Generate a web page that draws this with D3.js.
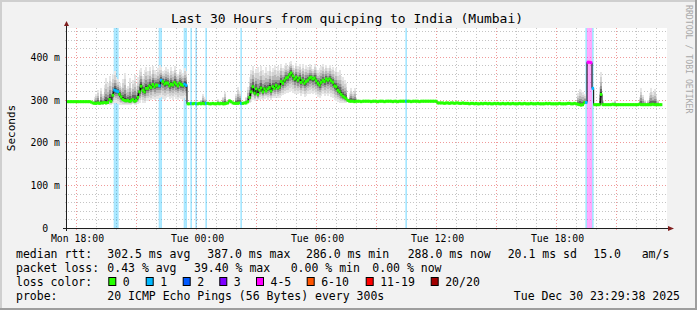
<!DOCTYPE html>
<html>
<head>
<meta charset="utf-8">
<script src="https://cdn.jsdelivr.net/npm/d3@7"></script>
<style>
  body { margin: 0; background: #f2f2f2; }
  svg { display: block; font-family: "DejaVu Sans Mono", monospace; }
</style>
</head>
<body>
<svg id="chart" width="697" height="310"></svg>
<script>
const _ = null;

// median rtt (ms), 5 minute steps starting Mon 17:30, one row per hour
var median = [
  295,295,295,295,295,295,295,295,295,295,295,295,
  295,295,294,292,291,291,292,291,292,292,293,292,
  293,300,296,310,322,320,318,312,306,300,298,297,
  298,296,297,300,296,298,305,318,331,322,318,326,
  326,332,328,335,330,334,333,332,345,342,336,339,
  338,332,336,334,340,336,332,338,335,333,336,333,
  290,290,291,290,291,290,290,291,290,291,290,291,
  291,290,290,291,290,290,291,290,291,290,290,291,
  292,297,295,292,291,291,291,292,291,291,292,292,
  295,305,318,330,315,325,312,322,327,318,325,320,
  325,328,320,330,326,333,327,330,342,338,345,350,
  352,358,362,355,348,352,345,350,340,345,338,342,
  345,350,352,348,350,344,338,334,340,345,342,348,
  345,348,344,340,332,330,322,318,312,308,305,302,
  298,296,296,296,295,296,296,296,295,296,296,296,
  296,296,295,296,296,296,295,296,296,296,295,296,
  296,296,296,295,296,296,295,296,296,296,296,296,
  296,296,295,296,296,296,296,295,296,296,296,296,
  296,296,296,296,296,296,292,292,292,292,291,292,
  292,291,292,292,291,292,292,291,291,292,291,291,
  291,290,291,291,290,291,290,290,291,290,291,291,
  290,291,290,290,291,290,291,290,290,291,290,290,
  291,290,290,291,290,290,290,291,290,290,291,290,
  290,290,291,290,290,290,291,290,290,290,290,291,
  290,291,290,290,290,290,290,291,290,290,290,290,
  291,291,290,290,291,290,289,288,287,288,293,293,
  387,387,386,326,288,288,288,288,312,288,288,288,
  288,288,288,289,288,288,288,288,288,288,288,288,
  288,288,288,288,288,288,288,289,288,288,288,288,
  288,288,288,289,288,288,288,288,288
];

// smoke: highest and lowest ping of each step (ms), _ = no visible smoke
var smokeHi = [
  _,_,_,_,_,_,_,_,_,_,_,_,
  _,_,_,_,305,312,322,300,328,312,335,350,
  338,356,342,360,366,352,348,338,330,348,362,328,
  332,350,326,345,357,333,352,368,374,356,370,376,
  366,375,360,378,368,364,374,380,376,366,370,375,
  372,362,375,366,378,365,360,372,368,362,374,366,
  _,_,_,_,_,_,_,_,300,312,305,_,
  _,_,_,_,_,_,302,296,_,306,318,298,
  _,300,298,_,_,312,330,320,300,_,296,306,
  330,352,370,378,362,372,375,364,378,368,362,375,
  366,378,364,374,380,368,378,370,384,374,380,385,
  378,388,390,380,374,386,378,384,372,382,372,380,
  376,384,378,372,382,376,370,374,378,384,372,380,
  374,380,372,376,366,374,364,368,356,352,345,338,
  300,315,328,318,326,305,300,_,_,_,_,_,
  _,_,_,_,_,_,_,_,_,_,_,_,
  _,_,_,_,_,_,_,_,_,_,_,_,
  _,_,_,_,_,_,_,_,_,_,_,_,
  _,_,_,_,_,_,_,_,_,_,_,_,
  _,_,_,_,_,_,_,_,_,_,_,_,
  _,_,_,_,_,_,_,_,_,_,_,_,
  _,_,_,_,_,_,_,_,_,_,_,_,
  _,_,_,_,_,_,_,_,_,_,_,_,
  _,_,_,_,_,_,_,_,_,_,_,_,
  _,_,_,_,_,_,_,_,_,_,_,_,
  _,_,_,_,_,_,315,325,322,318,312,300,
  _,_,_,_,_,_,_,330,365,300,_,_,
  _,_,_,_,300,_,_,_,_,_,_,_,
  _,_,_,_,_,_,_,305,327,310,298,_,
  300,315,327,318,325,310,300,_,_
];
var smokeLo = [
  _,_,_,_,_,_,_,_,_,_,_,_,
  _,_,_,_,289,288,289,288,289,288,289,288,
  289,288,288,290,292,292,290,288,287,288,287,288,
  288,287,288,289,287,288,290,292,298,293,291,296,
  296,300,298,302,300,301,302,304,306,302,300,304,
  306,302,304,300,306,302,300,304,302,300,303,300,
  _,_,_,_,_,_,_,_,289,289,289,_,
  _,_,_,_,_,_,289,289,_,289,289,289,
  _,290,290,_,_,289,289,289,289,_,289,290,
  290,292,295,298,296,300,298,300,302,300,302,304,
  300,303,298,303,304,306,303,304,308,310,312,315,
  315,318,320,316,312,314,312,315,308,312,306,308,
  312,314,316,312,315,310,306,304,308,312,308,312,
  308,312,306,304,298,297,294,293,292,292,291,291,
  294,294,294,294,294,294,294,_,_,_,_,_,
  _,_,_,_,_,_,_,_,_,_,_,_,
  _,_,_,_,_,_,_,_,_,_,_,_,
  _,_,_,_,_,_,_,_,_,_,_,_,
  _,_,_,_,_,_,_,_,_,_,_,_,
  _,_,_,_,_,_,_,_,_,_,_,_,
  _,_,_,_,_,_,_,_,_,_,_,_,
  _,_,_,_,_,_,_,_,_,_,_,_,
  _,_,_,_,_,_,_,_,_,_,_,_,
  _,_,_,_,_,_,_,_,_,_,_,_,
  _,_,_,_,_,_,_,_,_,_,_,_,
  _,_,_,_,_,_,288,287,286,286,288,290,
  _,_,_,_,_,_,_,288,288,288,_,_,
  _,_,_,_,288,_,_,_,_,_,_,_,
  _,_,_,_,_,_,_,288,288,288,288,_,
  288,288,288,288,288,288,288,_,_
];

// [step index, pings lost out of 20]
var lostPings = [
  [28,1],[29,1],[30,1],[55,1],[56,1],[70,1],[71,1],[74,1],[77,1],[83,1],
  [104,1],[203,1],[311,1],[312,5],[313,5],[314,5],[315,1]
];

var lossLabels = ["0", "1", "2", "3", "4-5", "6-10", "11-19", "20/20"];
var lossColors = ["#26ff00", "#00b8ff", "#0059ff", "#7e00ff", "#ff00ff", "#ff5500", "#ff0000", "#a10000"];

var yTickValues = [0, 100, 200, 300, 400];
var rttStats = ["302.5 ms avg", "387.0 ms max", "286.0 ms min", "288.0 ms now", "20.1 ms sd", "15.0", "am/s"];
var lossStats = ["0.43 % avg", "39.40 % max", "0.00 % min", "0.00 % now"];
var probeText = "20 ICMP Echo Pings (56 Bytes) every 300s";
var stampText = "Tue Dec 30 23:29:38 2025";
var titleText = "Last 30 Hours from quicping to India (Mumbai)";

// ---- layout
var svgWidth = 697, svgHeight = 310;
var plot = { left: 67, right: 667, top: 28, bottom: 228 };
var t0 = new Date(2025, 11, 29, 17, 30);
var t1 = d3.timeHour.offset(t0, 30);
var stepTime = i => d3.timeMinute.offset(t0, 5 * i);

var x = d3.scaleTime().domain([t0, t1]).range([plot.left, plot.right]);
var y = d3.scaleLinear().domain([0, 467]).range([plot.bottom, plot.top]);

var svg = d3.select("#chart");

function bucket(l) {
  if (l <= 3) return l;
  if (l <= 5) return 4;
  if (l <= 10) return 5;
  if (l < 20) return 6;
  return 7;
}
var lossByStep = new Map(lostPings.map(d => [d[0], d[1]]));

// background + 3d frame
svg.append("rect").attr("width", svgWidth).attr("height", svgHeight).attr("fill", "#f2f2f2");
svg.append("path").attr("fill", "#cfcfcf")
  .attr("d", `M0,0H${svgWidth}V2H2V${svgHeight}H0Z`);
svg.append("path").attr("fill", "#9e9e9e")
  .attr("d", `M${svgWidth},${svgHeight}H0V${svgHeight - 2}H${svgWidth - 2}V0H${svgWidth}Z`);

// canvas
svg.append("rect")
  .attr("x", plot.left).attr("y", plot.top)
  .attr("width", plot.right - plot.left).attr("height", plot.bottom - plot.top)
  .attr("fill", "#ffffff");

// grid
var gridGray = "#c4c4c4", gridRed = "#f09a9a";
var grid = svg.append("g").attr("shape-rendering", "crispEdges");
var hours = d3.timeHour.every(1).range(d3.timeHour.offset(t0, 0.5), t1);
hours.forEach(function(h) {
  var major = h.getHours() % 3 === 0;
  var px = Math.round(x(h)) - 0.5;
  grid.append("line")
    .attr("x1", px).attr("x2", px).attr("y1", plot.top).attr("y2", plot.bottom + 2)
    .attr("stroke", major ? gridRed : gridGray)
    .attr("stroke-dasharray", "1,2");
});
d3.range(20, 467, 20).forEach(function(v) {
  var major = v % 100 === 0;
  var py = Math.round(y(v)) + 0.5;
  grid.append("line")
    .attr("x1", plot.left - 2).attr("x2", plot.right).attr("y1", py).attr("y2", py)
    .attr("stroke", major ? gridRed : gridGray)
    .attr("stroke-dasharray", "1,2");
});

// loss background bars
svg.append("g").selectAll("rect")
  .data(lostPings)
  .join("rect")
  .attr("x", d => x(stepTime(d[0])))
  .attr("width", d => x(stepTime(d[0] + 1)) - x(stepTime(d[0])))
  .attr("y", plot.top)
  .attr("height", plot.bottom - plot.top)
  .attr("fill", d => lossColors[bucket(d[1])])
  .attr("fill-opacity", 0.35);

// smoke
var smokeSteps = median.map((m, i) => ({ i: i, m: m, hi: smokeHi[i], lo: smokeLo[i] }))
  .filter(d => d.hi !== null && d.lo !== null);
var layers = [
  { f: 1.0, c: "#e6e6e6" },
  { f: 0.78, c: "#d2d2d2" },
  { f: 0.56, c: "#b8b8b8" },
  { f: 0.38, c: "#969696" },
  { f: 0.22, c: "#686868" },
  { f: 0.1, c: "#333333" }
];
var smoke = svg.append("g").attr("shape-rendering", "crispEdges");
layers.forEach(function(layer) {
  smoke.append("g").selectAll("rect")
    .data(smokeSteps)
    .join("rect")
    .attr("x", d => x(stepTime(d.i)))
    .attr("width", d => x(stepTime(d.i + 1)) - x(stepTime(d.i)) + 0.4)
    .attr("y", d => y(d.m + (d.hi - d.m) * layer.f))
    .attr("height", d => y(d.m - (d.m - d.lo) * layer.f) - y(d.m + (d.hi - d.m) * layer.f))
    .attr("fill", layer.c);
});

// median: black step line with loss coloured steps on top
var stepPts = median.map((m, i) => [stepTime(i), m]);
stepPts.push([stepTime(median.length), median[median.length - 1]]);
svg.append("path")
  .datum(stepPts)
  .attr("fill", "none")
  .attr("stroke", "#000")
  .attr("stroke-width", 1)
  .attr("d", d3.line().x(d => x(d[0])).y(d => y(d[1])).curve(d3.curveStepAfter));

svg.append("g").selectAll("rect")
  .data(median.map((m, i) => ({ i: i, m: m })))
  .join("rect")
  .attr("x", d => x(stepTime(d.i)) - 0.4)
  .attr("width", d => x(stepTime(d.i + 1)) - x(stepTime(d.i)) + 0.8)
  .attr("y", d => y(d.m) - 1.5)
  .attr("height", 3)
  .attr("fill", d => lossColors[bucket(lossByStep.get(d.i) || 0)]);

// axes lines and arrows
svg.append("line")
  .attr("x1", plot.left - 4).attr("x2", plot.right + 2)
  .attr("y1", plot.bottom + 0.5).attr("y2", plot.bottom + 0.5)
  .attr("stroke", "#1f1f1f");
svg.append("line")
  .attr("x1", plot.left - 0.5).attr("x2", plot.left - 0.5)
  .attr("y1", plot.bottom + 3).attr("y2", plot.top - 3)
  .attr("stroke", "#1f1f1f");
svg.append("path").attr("fill", "#801f1f")
  .attr("d", `M${plot.right + 1},${plot.bottom - 2}L${plot.right + 7},${plot.bottom + 0.5}L${plot.right + 1},${plot.bottom + 3}Z`);
svg.append("path").attr("fill", "#801f1f")
  .attr("d", `M${plot.left - 3},${plot.top - 2}L${plot.left - 0.5},${plot.top - 7}L${plot.left + 2},${plot.top - 2}Z`);

// tick labels
var xAxis = svg.append("g")
  .attr("transform", `translate(0,${plot.bottom})`)
  .call(d3.axisBottom(x)
    .tickValues(d3.timeHour.every(6).range(t0, t1))
    .tickFormat(d3.timeFormat("%a %H:%M"))
    .tickSize(0).tickPadding(0));
xAxis.select(".domain").remove();
xAxis.selectAll("text")
  .attr("y", 13.5).attr("dy", null)
  .attr("font-family", "DejaVu Sans Mono").attr("font-size", "9.8px").attr("fill", "#000");

var yAxis = svg.append("g")
  .attr("transform", `translate(60,0)`)
  .call(d3.axisLeft(y)
    .tickValues(yTickValues)
    .tickFormat(d => d === 0 ? "0  " : d + " m")
    .tickSize(0).tickPadding(0));
yAxis.select(".domain").remove();
yAxis.selectAll("text")
  .attr("x", 0).attr("dy", "0.36em")
  .attr("xml:space", "preserve").style("white-space", "pre")
  .attr("font-family", "DejaVu Sans Mono").attr("font-size", "9.8px").attr("fill", "#000");

// title, vertical labels
svg.append("text")
  .attr("x", 347).attr("y", 23)
  .attr("text-anchor", "middle").attr("font-size", "13px")
  .text(titleText);
svg.append("text")
  .attr("transform", "translate(15,128) rotate(-90)")
  .attr("text-anchor", "middle").attr("font-size", "11px")
  .text("Seconds");
svg.append("text")
  .attr("transform", "translate(686,5) rotate(90)")
  .attr("font-size", "8.2px").attr("fill", "#a8a8a8")
  .text("RRDTOOL / TOBI OETIKER");

// legend
var legend = svg.append("g").attr("font-size", "11.5px").style("white-space", "pre");
var rowY = [258, 272, 286, 300];
var rttX = [107.3, 207.3, 306, 407.7, 507.7, 593.3, 641.7];
var lossX = [107.3, 194, 290.7, 372.3];
var boxX = [108.3, 145.7, 182.7, 219.3, 256, 306.7, 365.7, 430.7];

legend.append("text").attr("x", 16).attr("y", rowY[0]).text("median rtt:");
rttStats.forEach((s, i) => legend.append("text").attr("x", rttX[i]).attr("y", rowY[0]).text(s));
legend.append("text").attr("x", 16).attr("y", rowY[1]).text("packet loss:");
lossStats.forEach((s, i) => legend.append("text").attr("x", lossX[i]).attr("y", rowY[1]).text(s));
legend.append("text").attr("x", 16).attr("y", rowY[2]).text("loss color:");
lossLabels.forEach(function(s, i) {
  legend.append("rect")
    .attr("x", boxX[i] + 0.5).attr("y", rowY[2] - 8.5)
    .attr("width", 7).attr("height", 8)
    .attr("fill", lossColors[i]).attr("stroke", "#000").attr("stroke-width", 1);
  legend.append("text").attr("x", boxX[i] + 14.5).attr("y", rowY[2]).text(s);
});
legend.append("text").attr("x", 16).attr("y", rowY[3]).text("probe:");
legend.append("text").attr("x", 107.3).attr("y", rowY[3]).text(probeText);
legend.append("text").attr("x", 680).attr("y", rowY[3]).attr("text-anchor", "end").text(stampText);
</script>
</body>
</html>
